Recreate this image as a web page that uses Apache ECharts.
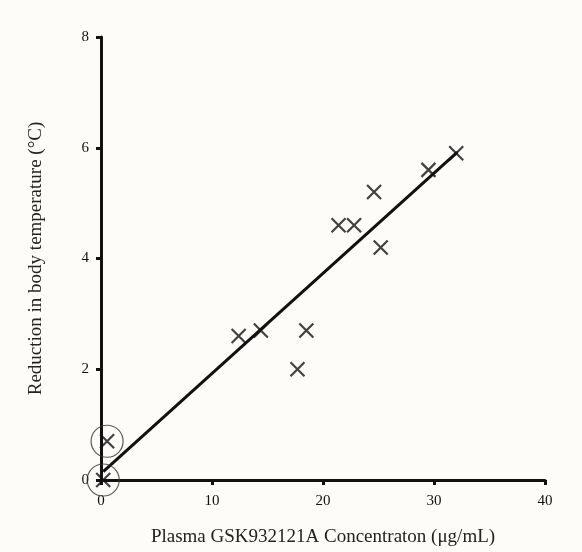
<!DOCTYPE html>
<html>
<head>
<meta charset="utf-8">
<script src="https://cdn.jsdelivr.net/npm/echarts@6/dist/echarts.min.js"></script>
<style>
  html, body { margin: 0; padding: 0; background: #fdfcf9; }
  #chart { width: 582px; height: 552px; }
</style>
</head>
<body>
<div id="chart"></div>
<script>
// Plasma concentration (µg/mL) vs. reduction in body temperature (°C)
const concentration = [0.2, 0.55, 12.4, 14.4, 17.7, 18.5, 21.4, 22.8, 24.6, 25.2, 29.5, 32.0];
const tempReduction = [0.0, 0.7, 2.6, 2.7, 2.0, 2.7, 4.6, 4.6, 5.2, 4.2, 5.6, 5.9];

// Circled points (highlighted low-concentration observations)
const circledX = [0.2, 0.55];
const circledY = [0.0, 0.7];

// Fitted line endpoints
const fitX = [0.2, 32.1];
const fitY = [0.15, 5.92];

const xTicks = [0, 10, 20, 30, 40];
const yTicks = [0, 2, 4, 6, 8];

const font = '"Liberation Serif", "DejaVu Serif", serif';
const ink = '#111';

const pairs = (xs, ys) => xs.map((x, i) => [x, ys[i]]);

const chart = echarts.init(document.getElementById('chart'), null, { renderer: 'canvas' });
chart.setOption({
  backgroundColor: '#fdfcf9',
  animation: false,
  grid: { left: 101, right: 37, top: 37, bottom: 72, containLabel: false },
  xAxis: {
    type: 'value',
    min: xTicks[0], max: xTicks[xTicks.length - 1], interval: 10,
    name: 'Plasma GSK932121A Concentraton (μg/mL)',
    nameLocation: 'middle', nameGap: 48,
    nameTextStyle: { fontFamily: font, fontSize: 19, color: '#222' },
    axisLine: { lineStyle: { color: ink, width: 3 } },
    axisTick: { inside: false, length: 5, lineStyle: { color: ink, width: 3 } },
    axisLabel: { margin: 14, fontFamily: font, fontSize: 15, color: '#111' },
    splitLine: { show: false }
  },
  yAxis: {
    type: 'value',
    min: yTicks[0], max: yTicks[yTicks.length - 1], interval: 2,
    name: 'Reduction in body temperature (°C)',
    nameLocation: 'middle', nameGap: 55,
    nameTextStyle: { fontFamily: font, fontSize: 19, color: '#222' },
    axisLine: { lineStyle: { color: ink, width: 3 } },
    axisTick: { inside: false, length: 5, lineStyle: { color: ink, width: 3 } },
    axisLabel: { margin: 12, fontFamily: font, fontSize: 15, color: '#111' },
    splitLine: { show: false }
  },
  series: [
    {
      type: 'line',
      data: pairs(fitX, fitY),
      symbol: 'none',
      lineStyle: { color: ink, width: 3 },
      z: 2
    },
    {
      type: 'scatter',
      data: pairs(concentration, tempReduction),
      symbol: 'path://M0,0L10,10M10,0L0,10',
      symbolSize: 14,
      itemStyle: { color: 'rgba(0,0,0,0)', borderColor: ink, borderWidth: 2.2 },
      z: 3
    },
    {
      type: 'scatter',
      data: pairs(circledX, circledY),
      symbol: 'circle',
      symbolSize: 32,
      itemStyle: { color: 'rgba(0,0,0,0)', borderColor: '#333', borderWidth: 1.2 },
      z: 4
    }
  ]
});
</script>
</body>
</html>
